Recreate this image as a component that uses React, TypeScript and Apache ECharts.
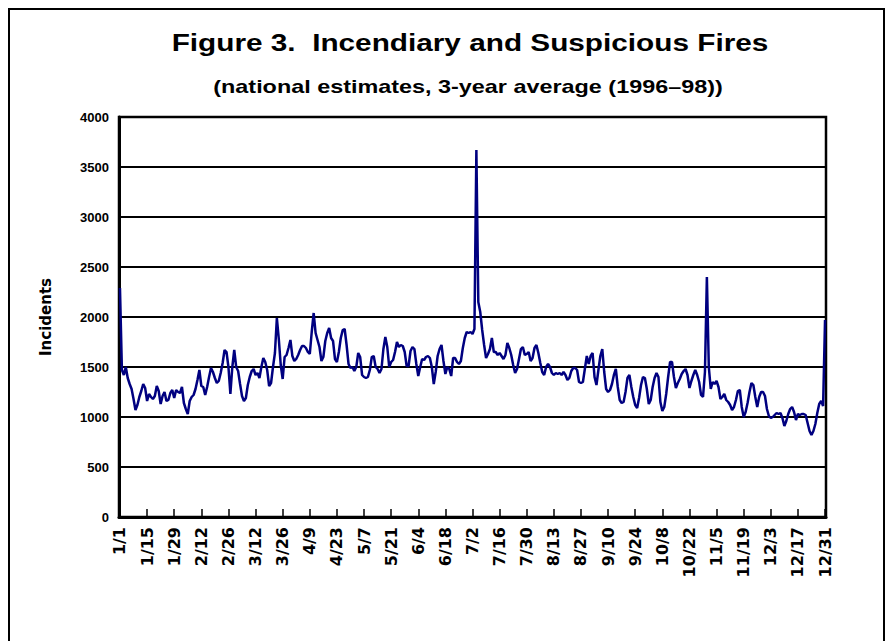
import React, { useEffect, useRef } from "react";
import * as echarts from "echarts";

const TITLE = "Figure 3.  Incendiary and Suspicious Fires";
const SUBTITLE = "(national estimates, 3-year average (1996–98))";
const Y_NAME = "Incidents";

const MONTH_DAYS = [31, 28, 31, 30, 31, 30, 31, 31, 30, 31, 30, 31];

const jan = [2290, 1470, 1420, 1500, 1390, 1330, 1280, 1180, 1070, 1120, 1200, 1260, 1330, 1290, 1160, 1230, 1200, 1180, 1210, 1310, 1260, 1130, 1210, 1250, 1160, 1170, 1240, 1270, 1190, 1270, 1250];
const feb = [1240, 1300, 1140, 1080, 1030, 1160, 1200, 1220, 1280, 1370, 1470, 1310, 1300, 1220, 1300, 1400, 1490, 1450, 1390, 1340, 1360, 1440, 1540, 1670, 1650, 1500, 1230, 1500];
const mar = [1670, 1500, 1460, 1330, 1210, 1160, 1190, 1320, 1400, 1460, 1480, 1420, 1440, 1390, 1500, 1590, 1550, 1470, 1310, 1340, 1500, 1640, 1990, 1780, 1520, 1380, 1600, 1620, 1690, 1770, 1610];
const apr = [1560, 1580, 1620, 1670, 1710, 1710, 1690, 1650, 1630, 1850, 2040, 1840, 1770, 1700, 1560, 1600, 1760, 1840, 1890, 1790, 1760, 1580, 1550, 1650, 1790, 1870, 1880, 1720, 1530, 1490];
const may = [1500, 1460, 1500, 1640, 1600, 1420, 1400, 1390, 1400, 1470, 1600, 1610, 1500, 1480, 1440, 1480, 1680, 1800, 1700, 1500, 1550, 1570, 1650, 1750, 1700, 1720, 1710, 1650, 1510, 1510, 1660];
const jun = [1700, 1680, 1530, 1410, 1500, 1580, 1570, 1600, 1610, 1590, 1500, 1330, 1450, 1610, 1680, 1720, 1560, 1430, 1500, 1480, 1410, 1590, 1590, 1550, 1530, 1560, 1690, 1790, 1850, 1840];
const jul = [1850, 1830, 1880, 3670, 2150, 2050, 1870, 1720, 1590, 1630, 1680, 1790, 1650, 1650, 1620, 1640, 1610, 1580, 1620, 1740, 1690, 1620, 1520, 1440, 1480, 1580, 1680, 1700, 1620, 1630, 1650];
const aug = [1560, 1590, 1690, 1720, 1640, 1540, 1450, 1420, 1500, 1530, 1500, 1440, 1420, 1440, 1430, 1440, 1420, 1450, 1420, 1370, 1390, 1460, 1490, 1490, 1470, 1350, 1340, 1350, 1480, 1610, 1530];
const sep = [1610, 1640, 1400, 1320, 1470, 1610, 1680, 1450, 1280, 1250, 1270, 1330, 1420, 1480, 1300, 1170, 1140, 1150, 1250, 1390, 1420, 1300, 1200, 1120, 1090, 1190, 1320, 1400, 1390, 1280];
const oct = [1130, 1170, 1300, 1390, 1440, 1400, 1150, 1060, 1100, 1230, 1400, 1550, 1550, 1400, 1290, 1340, 1380, 1430, 1460, 1480, 1420, 1290, 1360, 1420, 1470, 1420, 1350, 1220, 1200, 1450, 2400];
const nov = [1500, 1280, 1350, 1330, 1360, 1300, 1180, 1200, 1230, 1170, 1150, 1120, 1070, 1100, 1170, 1260, 1270, 1100, 1000, 1050, 1140, 1250, 1340, 1320, 1200, 1100, 1200, 1250, 1250, 1210];
const dec = [1080, 1010, 990, 1000, 1020, 1040, 1030, 1040, 990, 910, 960, 1030, 1080, 1100, 1050, 970, 1030, 1020, 1030, 1030, 1020, 940, 860, 820, 860, 930, 1040, 1130, 1160, 1110, 1970];

const Y_MIN = 0;
const Y_MAX = 4000;
const Y_STEP = 500;
const LABEL_EVERY = 14;

const categories: string[] = [];
MONTH_DAYS.forEach((n, m) => {
  for (let d = 1; d <= n; d++) categories.push(`${m + 1}/${d}`);
});
const values = [...jan, ...feb, ...mar, ...apr, ...may, ...jun, ...jul, ...aug, ...sep, ...oct, ...nov, ...dec];

export default function App() {
  const ref = useRef<HTMLDivElement>(null);
  useEffect(() => {
    if (!ref.current) return;
    const chart = echarts.init(ref.current, null, { renderer: "svg" });
    chart.setOption({
      animation: false,
      backgroundColor: "#ffffff",
      grid: {
        left: 119,
        right: 60,
        top: 117,
        bottom: 124,
        containLabel: false,
        outerBoundsMode: "none",
        show: true,
        borderColor: "#000",
        borderWidth: 2.5,
      },
      xAxis: {
        type: "category",
        data: categories,
        boundaryGap: true,
        axisLine: { lineStyle: { color: "#000", width: 3 } },
        axisTick: {
          show: true,
          inside: true,
          length: 8,
          alignWithLabel: true,
          interval: LABEL_EVERY - 1,
          lineStyle: { color: "#000", width: 1.5 },
        },
        axisLabel: {
          interval: LABEL_EVERY - 1,
          rotate: 90,
          fontFamily: "DejaVu Sans",
          fontWeight: "bold",
          fontSize: 16,
          color: "#000",
          margin: 10,
        },
        splitLine: { show: false },
      },
      yAxis: {
        type: "value",
        min: Y_MIN,
        max: Y_MAX,
        interval: Y_STEP,
        name: Y_NAME,
        nameLocation: "middle",
        nameGap: 66,
        nameRotate: 90,
        nameTextStyle: {
          fontFamily: "DejaVu Sans",
          fontWeight: "bold",
          fontSize: 15,
          color: "#000",
        },
        axisLine: { show: true, lineStyle: { color: "#000", width: 3 } },
        axisTick: { show: false },
        axisLabel: {
          fontFamily: "Liberation Sans",
          fontWeight: "bold",
          fontSize: 13,
          color: "#000",
          margin: 10,
          formatter: (v: number) => String(v),
        },
        splitLine: { show: true, lineStyle: { color: "#000", width: 2 } },
      },
      series: [
        {
          type: "line",
          data: values,
          symbol: "none",
          lineStyle: { color: "#000080", width: 2.5 },
          itemStyle: { color: "#000080" },
        },
      ],
      graphic: [
        {
          type: "rect",
          shape: { x: 9, y: 9, width: 875, height: 640 },
          style: { fill: "none", stroke: "#000", lineWidth: 2 },
          silent: true,
        },
        {
          type: "text",
          x: 470,
          y: 43,
          scaleX: 1.24,
          style: {
            text: TITLE,
            x: 0,
            y: 0,
            align: "center",
            verticalAlign: "middle",
            fontFamily: "Liberation Sans",
            fontWeight: "bold",
            fontSize: 24,
            fill: "#000",
          },
        },
        {
          type: "text",
          x: 468,
          y: 87,
          scaleX: 1.3,
          style: {
            text: SUBTITLE,
            x: 0,
            y: 0,
            align: "center",
            verticalAlign: "middle",
            fontFamily: "Liberation Sans",
            fontWeight: "bold",
            fontSize: 18,
            fill: "#000",
          },
        },
      ],
    });
    return () => chart.dispose();
  }, []);
  return (
    <div
      ref={ref}
      style={{ position: "fixed", left: 0, top: 0, width: 886, height: 641 }}
    />
  );
}
